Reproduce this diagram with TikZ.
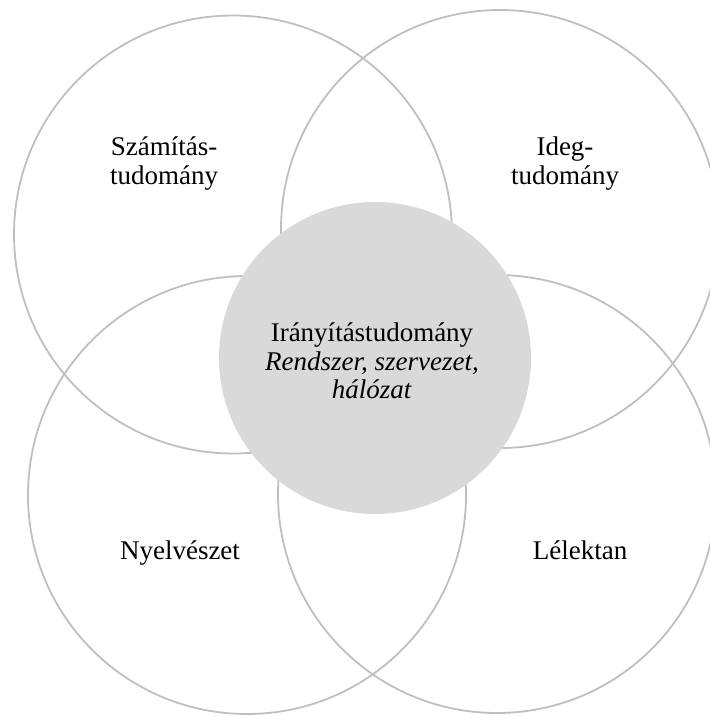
\documentclass[tikz,border=0pt]{standalone}
\usepackage{fontspec}
\setmainfont{Liberation Serif}
\usepackage{tikz}

\definecolor{ringgray}{HTML}{BFBFBF}
\definecolor{hubgray}{HTML}{D9D9D9}

\begin{document}
\begin{tikzpicture}[x=1pt,y=-1pt]
        \useasboundingbox (0,0) rectangle (710,716);
        \clip (0,0) rectangle (710,716);
        \begin{scope}[every node/.style={draw=ringgray, line width=1.8pt, circle, minimum size=438pt, inner sep=0}]
                \node (Szam) at (233,234.5) {};
                \node (Ideg) at (500,229) {};
                \node (Nyelv) at (247,495) {};
                \node (Lelek) at (497,494) {};
        \end{scope}
        \node[circle, fill=hubgray, minimum size=312pt, inner sep=0] (Hub) at (375,358) {};
        \begin{scope}[every node/.style={align=center, inner sep=0, font=\fontsize{27}{28.5}\selectfont}]
                \node (SzamT) at (164,163.5) {Számítás-\\tudomány};
                \node (IdegT) at (565,163.5) {Ideg-\\tudomány};
                \node (HubT) at (372,361) {Irányítástudomány\\\textit{Rendszer, szervezet,}\\\textit{hálózat}};
                \node (NyelvT) at (180,553) {Nyelvészet};
                \node (LelekT) at (580,550.5) {Lélektan};
        \end{scope}
\end{tikzpicture}
\end{document}
